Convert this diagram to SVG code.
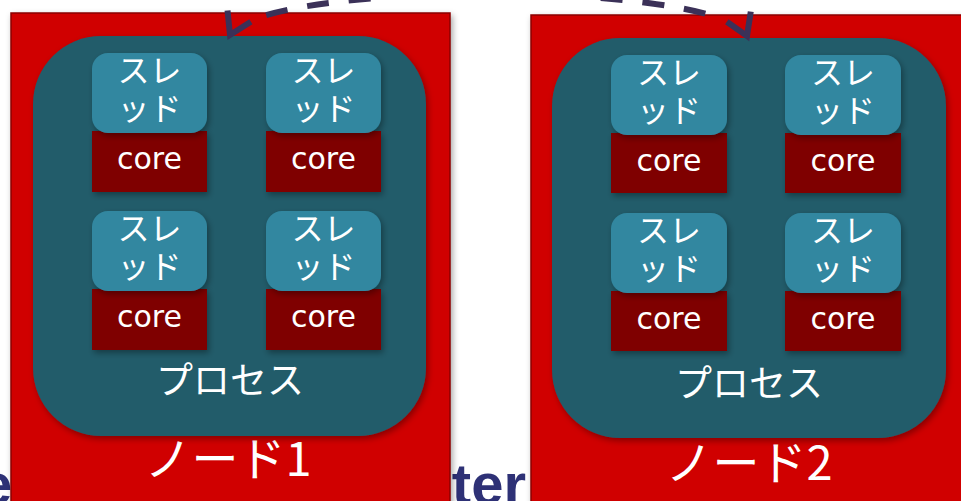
<svg xmlns="http://www.w3.org/2000/svg" xmlns:xlink="http://www.w3.org/1999/xlink" width="961" height="501" viewBox="0 0 961 501">
  <defs>
    <filter id="shadow" x="-10%" y="-10%" width="130%" height="130%">
      <feDropShadow dx="2" dy="3" stdDeviation="3" flood-color="#000" flood-opacity="0.35"/>
    </filter>
    <path id="chev" d="M-21,-13 L0,0 L-21,13"/>
    <style>
      .bg-title { font-family: "Liberation Sans", Arial, sans-serif; font-weight: bold; font-size: 58px; fill: #2e3176; }
      .node { fill: #d00000; stroke: #8a0000; stroke-width: 1.5; filter: url(#shadow); }
      .process { fill: #235b6b; filter: url(#shadow); }
      .thread { fill: #3287a0; filter: url(#shadow); }
      .core { fill: #7f0000; filter: url(#shadow); }
      .jp { font-family: "Noto Sans CJK JP", sans-serif; fill: #ffffff; text-anchor: middle; }
      .t-thread { font-size: 32px; }
      .t-process { font-size: 37px; }
      .t-node { font-size: 47px; }
      .t-core { font-family: "DejaVu Sans", Verdana, sans-serif; font-size: 30px; fill: #ffffff; text-anchor: middle; }
      .link { fill: none; stroke: #3b3158; stroke-width: 6; stroke-dasharray: 22 20; }
      .head { fill: none; stroke: #3b3158; stroke-width: 6; stroke-linejoin: miter; }
    </style>
  </defs>

  <rect width="961" height="501" fill="#ffffff"/>

  <!-- title text partly hidden behind the nodes -->
  <text class="bg-title" x="-20" y="504">e</text>
  <text class="bg-title" x="526" y="504" text-anchor="end">ter</text>

  <!-- node 1 -->
  <g id="node1">
    <rect class="node" x="11" y="13" width="439" height="492"/>
    <text class="jp t-node" x="228" y="476">ノード1</text>
    <g id="process1">
      <rect class="process" x="33" y="36" width="393" height="400" rx="68"/>
      <text class="jp t-process" x="230" y="394">プロセス</text>
    </g>
    <g id="n1-core1">
      <rect class="core" x="92" y="131" width="115" height="61"/>
      <text class="t-core" x="149.5" y="169">core</text>
    </g>
    <g id="n1-thread1">
      <rect class="thread" x="92" y="53" width="115" height="80" rx="16"/>
      <text class="jp t-thread" x="149.5" y="82">スレ</text>
      <text class="jp t-thread" x="149.5" y="120">ッド</text>
    </g>
    <g id="n1-core2">
      <rect class="core" x="266" y="131" width="115" height="61"/>
      <text class="t-core" x="323.5" y="169">core</text>
    </g>
    <g id="n1-thread2">
      <rect class="thread" x="266" y="53" width="115" height="80" rx="16"/>
      <text class="jp t-thread" x="323.5" y="82">スレ</text>
      <text class="jp t-thread" x="323.5" y="120">ッド</text>
    </g>
    <g id="n1-core3">
      <rect class="core" x="92" y="289" width="115" height="61"/>
      <text class="t-core" x="149.5" y="327">core</text>
    </g>
    <g id="n1-thread3">
      <rect class="thread" x="92" y="211" width="115" height="80" rx="16"/>
      <text class="jp t-thread" x="149.5" y="240">スレ</text>
      <text class="jp t-thread" x="149.5" y="278">ッド</text>
    </g>
    <g id="n1-core4">
      <rect class="core" x="266" y="289" width="115" height="61"/>
      <text class="t-core" x="323.5" y="327">core</text>
    </g>
    <g id="n1-thread4">
      <rect class="thread" x="266" y="211" width="115" height="80" rx="16"/>
      <text class="jp t-thread" x="323.5" y="240">スレ</text>
      <text class="jp t-thread" x="323.5" y="278">ッド</text>
    </g>
  </g>

  <!-- node 2 -->
  <g id="node2">
    <rect class="node" x="531" y="15" width="440" height="492"/>
    <text class="jp t-node" x="749" y="480">ノード2</text>
    <g id="process2">
      <rect class="process" x="552" y="38" width="394" height="400" rx="68"/>
      <text class="jp t-process" x="749" y="397">プロセス</text>
    </g>
    <g id="n2-core1">
      <rect class="core" x="611" y="133" width="116" height="60"/>
      <text class="t-core" x="669" y="171">core</text>
    </g>
    <g id="n2-thread1">
      <rect class="thread" x="611" y="55" width="116" height="80" rx="16"/>
      <text class="jp t-thread" x="669" y="84">スレ</text>
      <text class="jp t-thread" x="669" y="122">ッド</text>
    </g>
    <g id="n2-core2">
      <rect class="core" x="785" y="133" width="116" height="60"/>
      <text class="t-core" x="843" y="171">core</text>
    </g>
    <g id="n2-thread2">
      <rect class="thread" x="785" y="55" width="116" height="80" rx="16"/>
      <text class="jp t-thread" x="843" y="84">スレ</text>
      <text class="jp t-thread" x="843" y="122">ッド</text>
    </g>
    <g id="n2-core3">
      <rect class="core" x="611" y="291" width="116" height="60"/>
      <text class="t-core" x="669" y="329">core</text>
    </g>
    <g id="n2-thread3">
      <rect class="thread" x="611" y="213" width="116" height="80" rx="16"/>
      <text class="jp t-thread" x="669" y="242">スレ</text>
      <text class="jp t-thread" x="669" y="280">ッド</text>
    </g>
    <g id="n2-core4">
      <rect class="core" x="785" y="291" width="116" height="60"/>
      <text class="t-core" x="843" y="329">core</text>
    </g>
    <g id="n2-thread4">
      <rect class="thread" x="785" y="213" width="116" height="80" rx="16"/>
      <text class="jp t-thread" x="843" y="242">スレ</text>
      <text class="jp t-thread" x="843" y="280">ッド</text>
    </g>
  </g>

  <!-- connector: dashed arc between the two processes, open heads at both ends -->
  <g id="connectors">
    <path class="link" d="M266.2,15.1 C363,-13.3 618.5,-13.2 712.7,15.8"/>
    <use xlink:href="#chev" class="head" transform="translate(230,35) rotate(116)"/>
    <use xlink:href="#chev" class="head" transform="translate(747,36) rotate(67)"/>
  </g>
</svg>
